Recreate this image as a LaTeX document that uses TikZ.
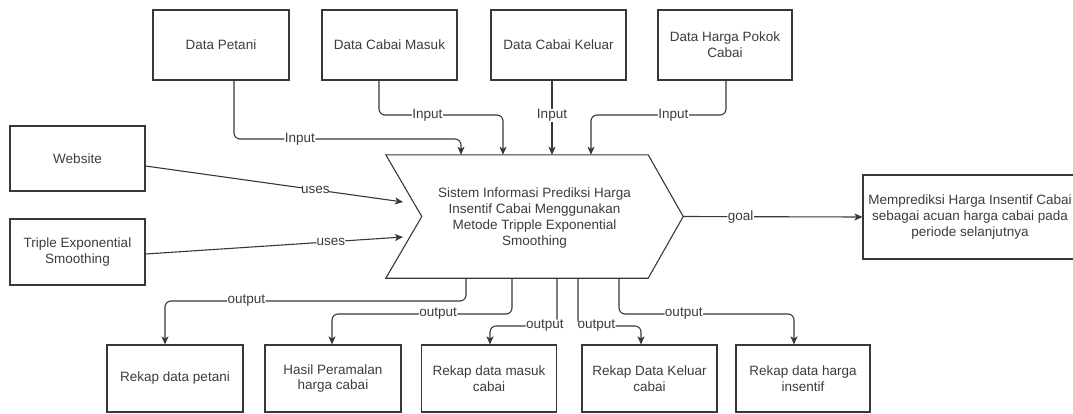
\documentclass[tikz,border=0pt]{standalone}
\usepackage{fontspec}
\setmainfont{Liberation Sans}
\usetikzlibrary{arrows.meta,calc}
\definecolor{ink}{HTML}{383838}
\definecolor{txt}{HTML}{3C3C3C}
\begin{document}
\begin{tikzpicture}[x=1pt,y=-1pt,
  font=\fontsize{13.5}{15.7}\selectfont,
  box/.style={draw=ink,line width=1.1pt,text=txt,align=center,inner sep=2pt},
  conn/.style={draw=ink,line width=1.1pt,rounded corners=6pt,
    -{Stealth[length=8pt,width=7pt,inset=2pt]}},
  lbl/.style={fill=white,text=txt,inner sep=0.5pt}]
\useasboundingbox (0,0) rectangle (1073,413);
\clip (0,0) rectangle (1073,413);

% source boxes along the top
\node[box,minimum width=136,minimum height=70] (petani) at (221,45) {Data Petani};
\node[box,minimum width=135,minimum height=70] (masuk) at (389.5,45) {Data Cabai Masuk};
\node[box,minimum width=135,minimum height=70] (keluar) at (558.5,45) {Data Cabai Keluar};
\node[box,minimum width=134,minimum height=70] (harga) at (725,45) {Data Harga Pokok\\Cabai};

% tools on the left
\node[box,minimum width=135,minimum height=65] (web) at (77.5,158.5) {Website};
\node[box,minimum width=135,minimum height=66] (tes) at (77.5,252) {Triple Exponential\\Smoothing};

% central process (chevron)
\node[minimum width=297,minimum height=123,inner sep=0pt] (sys) at (534.5,216.5) {};
\draw[ink,line width=1.1pt,line join=miter]
  (sys.north west) -- ($(sys.north east)+(-35,0)$) -- (sys.east)
  -- ($(sys.south east)+(-35,0)$) -- (sys.south west)
  -- ($(sys.west)+(36,0)$) -- cycle;
\node[text=txt,align=center] (systxt) at (534.5,218)
  {Sistem Informasi Prediksi Harga\\Insentif Cabai Menggunakan\\Metode Tripple Exponential\\Smoothing};

% goal box
\node[box,minimum width=214,minimum height=84] (goalbox) at (970,217)
  {Memprediksi Harga Insentif Cabai\\sebagai acuan harga cabai pada\\periode selanjutnya};

% output boxes along the bottom
\node[box,minimum width=136,minimum height=67] (rp) at (175,378.5) {Rekap data petani};
\node[box,minimum width=136,minimum height=67] (hp) at (333,378.5) {Hasil Peramalan\\harga cabai};
\node[box,minimum width=135,minimum height=67] (rm) at (489,378.5) {Rekap data masuk\\cabai};
\node[box,minimum width=135,minimum height=67] (rk) at (649.5,378.5) {Rekap Data Keluar\\cabai};
\node[box,minimum width=134,minimum height=67] (ri) at (803,378.5) {Rekap data harga\\insentif};

% arrow ends of the "uses" connectors
\coordinate (u1) at (403,202);
\coordinate (u2) at (403,237);

% inputs
\draw[conn] (petani.south -| 234,0) -- (234,139)
  -- node[lbl,pos=0.29]{Input} (461,139) -- (sys.north -| 461,0);
\draw[conn] (masuk.south -| 379,0) -- (379,115)
  -- node[lbl,pos=0.39]{Input} (503,115) -- (sys.north -| 503,0);
\draw[conn] (keluar.south -| 552,0) -- node[lbl,pos=0.47]{Input} (sys.north -| 552,0);
\draw[conn] (harga.south -| 726,0) -- (726,115)
  -- node[lbl,pos=0.39]{Input} (591,115) -- (sys.north -| 591,0);

% uses
\draw[conn] (web.east |- 0,166) -- node[lbl,pos=0.66]{uses} (u1);
\draw[conn] (tes.east |- 0,254) -- node[lbl,pos=0.72]{uses} (u2);

% goal
\draw[conn] (sys.east) -- node[lbl,pos=0.32]{goal} (goalbox.west);

% outputs
\draw[conn] (sys.south -| 466,0) -- (466,301)
  -- node[lbl,pos=0.73]{output} (165,301) -- (rp.north -| 165,0);
\draw[conn] (sys.south -| 512,0) -- (512,314)
  -- node[lbl,pos=0.41]{output} (332,314) -- (hp.north -| 332,0);
\draw[conn] (sys.south -| 557,0) -- (557,326)
  -- node[lbl,pos=0.18]{output} (490,326) -- (rm.north -| 490,0);
\draw[conn] (sys.south -| 578,0) -- (578,326)
  -- node[lbl,pos=0.29]{output} (641,326) -- (rk.north -| 641,0);
\draw[conn] (sys.south -| 619,0) -- (619,314)
  -- node[lbl,pos=0.37]{output} (794,314) -- (ri.north -| 794,0);
\end{tikzpicture}
\end{document}
